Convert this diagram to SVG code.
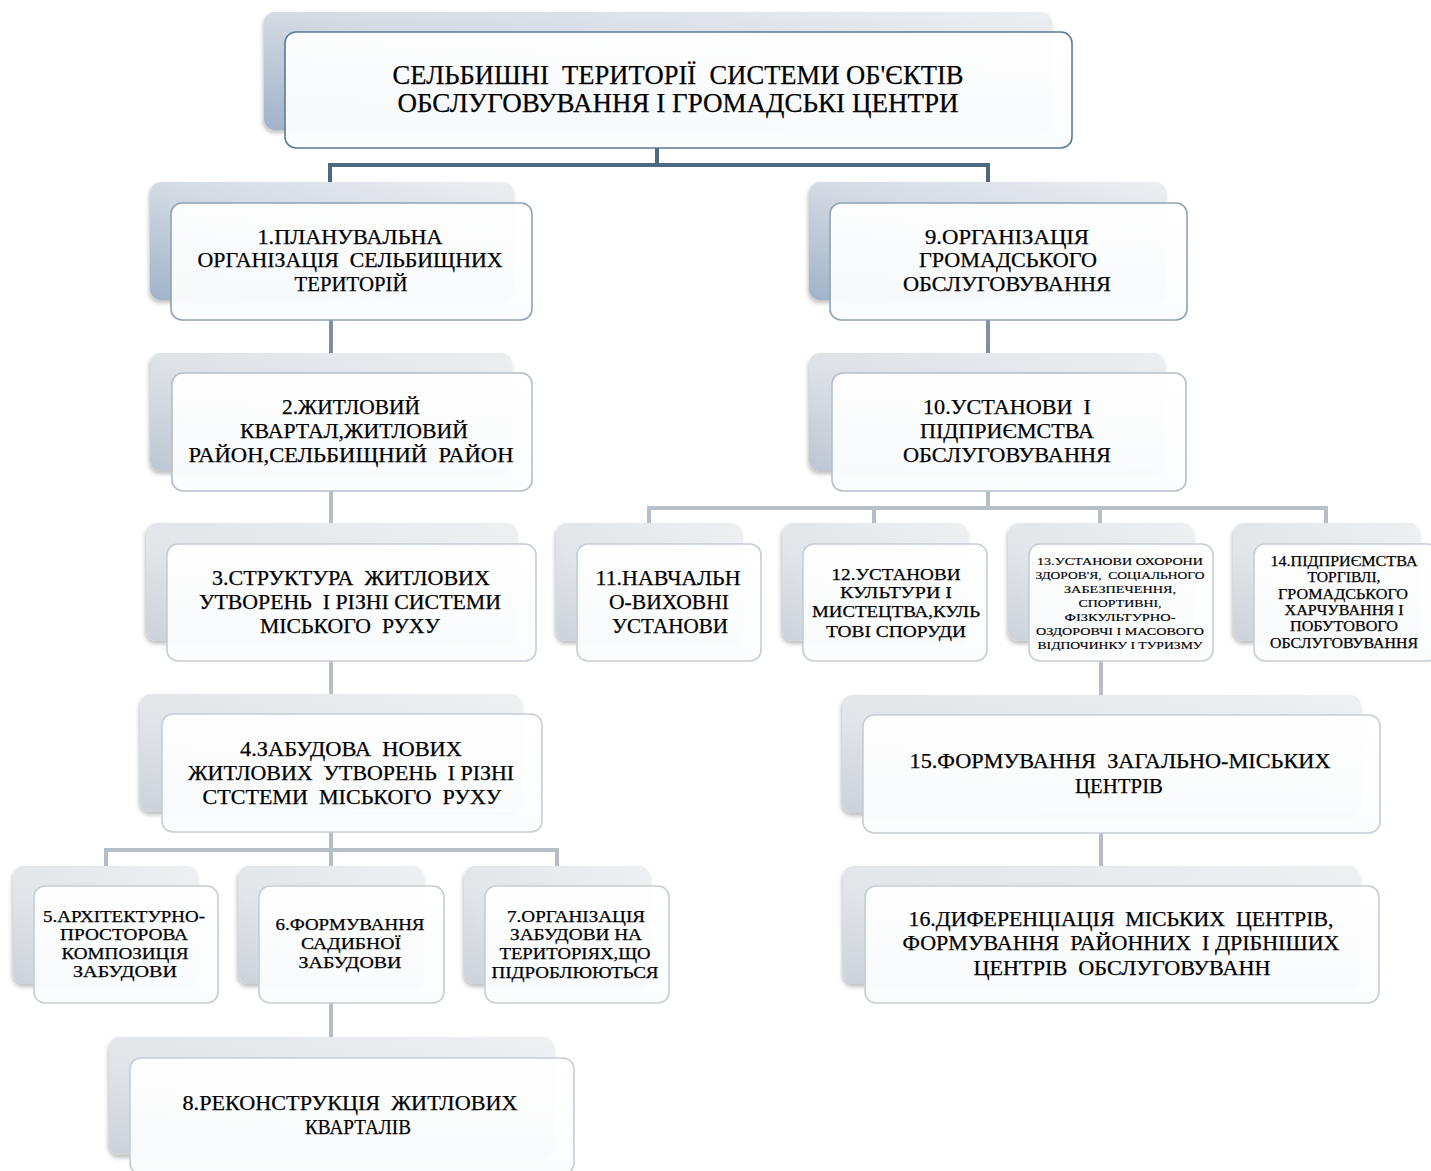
<svg xmlns="http://www.w3.org/2000/svg" width="1431" height="1171" viewBox="0 0 1431 1171">
<defs>
<linearGradient id="gBlue" x1="1" y1="0" x2="0" y2="1">
<stop offset="0" stop-color="#eceef1"/><stop offset="0.5" stop-color="#d3dae3"/><stop offset="1" stop-color="#9fb3c9"/>
</linearGradient>
<linearGradient id="gMid" x1="1" y1="0" x2="0" y2="1">
<stop offset="0" stop-color="#eceef1"/><stop offset="0.55" stop-color="#dde1e6"/><stop offset="1" stop-color="#bcc6d2"/>
</linearGradient>
<linearGradient id="gGray" x1="1" y1="0" x2="0" y2="1">
<stop offset="0" stop-color="#eef0f2"/><stop offset="0.6" stop-color="#e1e4e8"/><stop offset="1" stop-color="#ccd2d9"/>
</linearGradient>
<linearGradient id="gFront" x1="0" y1="0" x2="0" y2="1">
<stop offset="0" stop-color="#ffffff" stop-opacity="0.95"/><stop offset="1" stop-color="#fbfcfd" stop-opacity="0.93"/>
</linearGradient>
<filter id="sh" x="-10%" y="-10%" width="120%" height="130%">
<feDropShadow dx="-1" dy="3" stdDeviation="2" flood-color="#000" flood-opacity="0.25"/>
</filter>
</defs>
<style>
.back{filter:url(#sh);}
.b0{fill:url(#gBlue);}
.b1{fill:url(#gMid);}
.b2{fill:url(#gGray);}
.front{fill:url(#gFront);stroke-width:1.6;}
.f0{stroke:#5c7a98;}
.f1{stroke:#8da2b7;}
.f2{stroke:#b5bfca;}
.f3{stroke:#c6cdd5;}
text{font-family:"Liberation Serif","Times New Roman",serif;fill:#000;stroke:#000;stroke-width:0.25;text-anchor:middle;white-space:pre;}
.t27{font-size:27px;}
.t21{font-size:21px;}
.t17{font-size:17px;}
.t15{font-size:15px;}
.t11{font-size:11px;stroke-width:0.15;}
.c0{stroke:#4d6885;stroke-width:4;fill:none;}
.c1{stroke:#7c8fa3;stroke-width:4;fill:none;}
.c2{stroke:#b6bec8;stroke-width:4;fill:none;}
</style>
<rect width="1431" height="1171" fill="#ffffff"/>

<g id="connectors">
<path class="c0" d="M657 148 V165 M330 182 V165 H988 V182"/>
<path class="c1" d="M331 320 V353 M988 320 V353"/>
<path class="c2" d="M331 491 V523 M331 661 V694 M331 832 V850 M106 866 V850 H557 V866 M331 850 V866 M331 1003 V1037"/>
<path class="c2" d="M988 491 V508 M649 523 V508 H1326 V523 M874 508 V523 M1100 508 V523 M1101 661 V695 M1101 833 V866"/>
</g>

<g id="node-root">
<rect class="back b0" x="264" y="12" width="788" height="118" rx="11"/>
<rect class="front f0" x="285" y="32" width="787" height="116" rx="11"/>
<text class="t27" x="678" y="84" textLength="571" lengthAdjust="spacingAndGlyphs">СЕЛЬБИШНІ  ТЕРИТОРІЇ  СИСТЕМИ ОБ'ЄКТІВ</text>
<text class="t27" x="678" y="112" textLength="561" lengthAdjust="spacingAndGlyphs">ОБСЛУГОВУВАННЯ І ГРОМАДСЬКІ ЦЕНТРИ</text>
</g>

<g id="node-1">
<rect class="back b0" x="150" y="182" width="364" height="118" rx="11"/>
<rect class="front f1" x="171" y="203" width="361" height="117" rx="11"/>
<text class="t21" x="350" y="244" textLength="185" lengthAdjust="spacingAndGlyphs">1.ПЛАНУВАЛЬНА</text>
<text class="t21" x="350" y="267" textLength="305" lengthAdjust="spacingAndGlyphs">ОРГАНІЗАЦІЯ  СЕЛЬБИЩНИХ</text>
<text class="t21" x="351" y="291" textLength="113" lengthAdjust="spacingAndGlyphs">ТЕРИТОРІЙ</text>
</g>

<g id="node-2">
<rect class="back b1" x="150" y="353" width="362" height="118" rx="11"/>
<rect class="front f2" x="172" y="373" width="360" height="118" rx="11"/>
<text class="t21" x="351" y="414" textLength="138" lengthAdjust="spacingAndGlyphs">2.ЖИТЛОВИЙ</text>
<text class="t21" x="354" y="438" textLength="228" lengthAdjust="spacingAndGlyphs">КВАРТАЛ,ЖИТЛОВИЙ</text>
<text class="t21" x="351" y="462" textLength="325" lengthAdjust="spacingAndGlyphs">РАЙОН,СЕЛЬБИЩНИЙ  РАЙОН</text>
</g>

<g id="node-3">
<rect class="back b2" x="146" y="523" width="371" height="118" rx="11"/>
<rect class="front f3" x="167" y="544" width="369" height="117" rx="11"/>
<text class="t21" x="351" y="585" textLength="278" lengthAdjust="spacingAndGlyphs">3.СТРУКТУРА  ЖИТЛОВИХ</text>
<text class="t21" x="350" y="609" textLength="302" lengthAdjust="spacingAndGlyphs">УТВОРЕНЬ  І РІЗНІ СИСТЕМИ</text>
<text class="t21" x="350" y="633" textLength="180" lengthAdjust="spacingAndGlyphs">МІСЬКОГО  РУХУ</text>
</g>

<g id="node-4">
<rect class="back b2" x="140" y="694" width="382" height="118" rx="11"/>
<rect class="front f3" x="162" y="714" width="380" height="118" rx="11"/>
<text class="t21" x="351" y="756" textLength="222" lengthAdjust="spacingAndGlyphs">4.ЗАБУДОВА  НОВИХ</text>
<text class="t21" x="351" y="780" textLength="326" lengthAdjust="spacingAndGlyphs">ЖИТЛОВИХ  УТВОРЕНЬ  І РІЗНІ</text>
<text class="t21" x="352" y="804" textLength="299" lengthAdjust="spacingAndGlyphs">СТСТЕМИ  МІСЬКОГО  РУХУ</text>
</g>

<g id="node-5">
<rect class="back b2" x="13" y="866" width="185" height="118" rx="11"/>
<rect class="front f3" x="34" y="886" width="184" height="117" rx="11"/>
<text class="t17" x="124" y="922" textLength="162" lengthAdjust="spacingAndGlyphs">5.АРХІТЕКТУРНО-</text>
<text class="t17" x="124" y="940" textLength="128" lengthAdjust="spacingAndGlyphs">ПРОСТОРОВА</text>
<text class="t17" x="125" y="959" textLength="127" lengthAdjust="spacingAndGlyphs">КОМПОЗИЦІЯ</text>
<text class="t17" x="125" y="977" textLength="104" lengthAdjust="spacingAndGlyphs">ЗАБУДОВИ</text>
</g>

<g id="node-6">
<rect class="back b2" x="238" y="866" width="186" height="118" rx="11"/>
<rect class="front f3" x="259" y="886" width="185" height="117" rx="11"/>
<text class="t17" x="350" y="930" textLength="149" lengthAdjust="spacingAndGlyphs">6.ФОРМУВАННЯ</text>
<text class="t17" x="351" y="949" textLength="100" lengthAdjust="spacingAndGlyphs">САДИБНОЇ</text>
<text class="t17" x="350" y="968" textLength="103" lengthAdjust="spacingAndGlyphs">ЗАБУДОВИ</text>
</g>

<g id="node-7">
<rect class="back b2" x="464" y="866" width="186" height="118" rx="11"/>
<rect class="front f3" x="485" y="886" width="184" height="117" rx="11"/>
<text class="t17" x="576" y="922" textLength="138" lengthAdjust="spacingAndGlyphs">7.ОРГАНІЗАЦІЯ</text>
<text class="t17" x="576" y="940" textLength="132" lengthAdjust="spacingAndGlyphs">ЗАБУДОВИ НА</text>
<text class="t17" x="575" y="959" textLength="151" lengthAdjust="spacingAndGlyphs">ТЕРИТОРІЯХ,ЩО</text>
<text class="t17" x="575" y="978" textLength="167" lengthAdjust="spacingAndGlyphs">ПІДРОБЛЮЮТЬСЯ</text>
</g>

<g id="node-8">
<rect class="back b2" x="109" y="1037" width="445" height="118" rx="11"/>
<rect class="front f3" x="130" y="1058" width="444" height="116" rx="11"/>
<text class="t21" x="350" y="1110" textLength="335" lengthAdjust="spacingAndGlyphs">8.РЕКОНСТРУКЦІЯ  ЖИТЛОВИХ</text>
<text class="t21" x="358" y="1134" textLength="106" lengthAdjust="spacingAndGlyphs">КВАРТАЛІВ</text>
</g>

<g id="node-9">
<rect class="back b0" x="809" y="182" width="357" height="118" rx="11"/>
<rect class="front f1" x="830" y="203" width="357" height="117" rx="11"/>
<text class="t21" x="1007" y="244" textLength="164" lengthAdjust="spacingAndGlyphs">9.ОРГАНІЗАЦІЯ</text>
<text class="t21" x="1008" y="267" textLength="178" lengthAdjust="spacingAndGlyphs">ГРОМАДСЬКОГО</text>
<text class="t21" x="1007" y="291" textLength="208" lengthAdjust="spacingAndGlyphs">ОБСЛУГОВУВАННЯ</text>
</g>

<g id="node-10">
<rect class="back b1" x="809" y="353" width="356" height="118" rx="11"/>
<rect class="front f2" x="832" y="373" width="354" height="118" rx="11"/>
<text class="t21" x="1007" y="414" textLength="168" lengthAdjust="spacingAndGlyphs">10.УСТАНОВИ  І</text>
<text class="t21" x="1007" y="438" textLength="174" lengthAdjust="spacingAndGlyphs">ПІДПРИЄМСТВА</text>
<text class="t21" x="1007" y="462" textLength="208" lengthAdjust="spacingAndGlyphs">ОБСЛУГОВУВАННЯ</text>
</g>

<g id="node-11">
<rect class="back b2" x="556" y="523" width="186" height="118" rx="11"/>
<rect class="front f3" x="577" y="544" width="184" height="117" rx="11"/>
<text class="t21" x="668" y="585" textLength="145" lengthAdjust="spacingAndGlyphs">11.НАВЧАЛЬН</text>
<text class="t21" x="669" y="609" textLength="120" lengthAdjust="spacingAndGlyphs">О-ВИХОВНІ</text>
<text class="t21" x="670" y="633" textLength="116" lengthAdjust="spacingAndGlyphs">УСТАНОВИ</text>
</g>

<g id="node-12">
<rect class="back b2" x="782" y="523" width="186" height="118" rx="11"/>
<rect class="front f3" x="803" y="544" width="184" height="117" rx="11"/>
<text class="t17" x="896" y="580" textLength="129" lengthAdjust="spacingAndGlyphs">12.УСТАНОВИ</text>
<text class="t17" x="896" y="598" textLength="112" lengthAdjust="spacingAndGlyphs">КУЛЬТУРИ І</text>
<text class="t17" x="896" y="617" textLength="168" lengthAdjust="spacingAndGlyphs">МИСТЕЦТВА,КУЛЬ</text>
<text class="t17" x="896" y="637" textLength="140" lengthAdjust="spacingAndGlyphs">ТОВІ СПОРУДИ</text>
</g>

<g id="node-13">
<rect class="back b2" x="1008" y="523" width="186" height="118" rx="11"/>
<rect class="front f3" x="1029" y="544" width="184" height="117" rx="11"/>
<text class="t11" x="1120" y="565" textLength="166" lengthAdjust="spacingAndGlyphs">13.УСТАНОВИ ОХОРОНИ</text>
<text class="t11" x="1120" y="579" textLength="169" lengthAdjust="spacingAndGlyphs">ЗДОРОВ'Я,  СОЦІАЛЬНОГО</text>
<text class="t11" x="1120" y="593" textLength="112" lengthAdjust="spacingAndGlyphs">ЗАБЕЗПЕЧЕННЯ,</text>
<text class="t11" x="1120" y="607" textLength="83" lengthAdjust="spacingAndGlyphs">СПОРТИВНІ,</text>
<text class="t11" x="1120" y="621" textLength="111" lengthAdjust="spacingAndGlyphs">ФІЗКУЛЬТУРНО-</text>
<text class="t11" x="1120" y="635" textLength="168" lengthAdjust="spacingAndGlyphs">ОЗДОРОВЧІ І МАСОВОГО</text>
<text class="t11" x="1120" y="649" textLength="165" lengthAdjust="spacingAndGlyphs">ВІДПОЧИНКУ І ТУРИЗМУ</text>
</g>

<g id="node-14">
<rect class="back b2" x="1233" y="523" width="187" height="118" rx="11"/>
<rect class="front f3" x="1254" y="544" width="184" height="117" rx="11"/>
<text class="t15" x="1344" y="566" textLength="147" lengthAdjust="spacingAndGlyphs">14.ПІДПРИЄМСТВА</text>
<text class="t15" x="1344" y="582" textLength="73" lengthAdjust="spacingAndGlyphs">ТОРГІВЛІ,</text>
<text class="t15" x="1343" y="599" textLength="130" lengthAdjust="spacingAndGlyphs">ГРОМАДСЬКОГО</text>
<text class="t15" x="1344" y="615" textLength="119" lengthAdjust="spacingAndGlyphs">ХАРЧУВАННЯ І</text>
<text class="t15" x="1344" y="631" textLength="108" lengthAdjust="spacingAndGlyphs">ПОБУТОВОГО</text>
<text class="t15" x="1344" y="648" textLength="148" lengthAdjust="spacingAndGlyphs">ОБСЛУГОВУВАННЯ</text>
</g>

<g id="node-15">
<rect class="back b2" x="842" y="695" width="519" height="118" rx="11"/>
<rect class="front f3" x="863" y="715" width="517" height="118" rx="11"/>
<text class="t21" x="1120" y="768" textLength="421" lengthAdjust="spacingAndGlyphs">15.ФОРМУВАННЯ  ЗАГАЛЬНО-МІСЬКИХ</text>
<text class="t21" x="1119" y="793" textLength="88" lengthAdjust="spacingAndGlyphs">ЦЕНТРІВ</text>
</g>

<g id="node-16">
<rect class="back b2" x="843" y="866" width="517" height="118" rx="11"/>
<rect class="front f3" x="865" y="886" width="514" height="117" rx="11"/>
<text class="t21" x="1121" y="926" textLength="425" lengthAdjust="spacingAndGlyphs">16.ДИФЕРЕНЦІАЦІЯ  МІСЬКИХ  ЦЕНТРІВ,</text>
<text class="t21" x="1121" y="950" textLength="437" lengthAdjust="spacingAndGlyphs">ФОРМУВАННЯ  РАЙОННИХ  І ДРІБНІШИХ</text>
<text class="t21" x="1122" y="975" textLength="297" lengthAdjust="spacingAndGlyphs">ЦЕНТРІВ  ОБСЛУГОВУВАНН</text>
</g>
</svg>
